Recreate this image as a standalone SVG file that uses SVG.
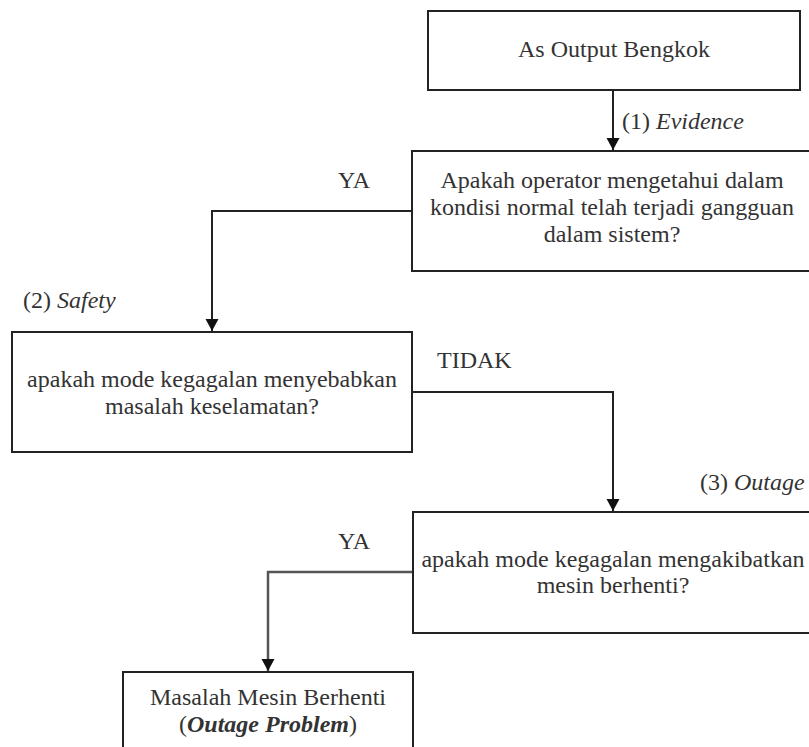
<svg xmlns="http://www.w3.org/2000/svg" width="809" height="747" viewBox="0 0 809 747">
<style>
.box{fill:#fff;stroke:#222;stroke-width:2}
.t{font-family:'Liberation Serif','Times New Roman',serif;font-size:24px;fill:#333}
.c{text-anchor:middle}
.conn{fill:none;stroke:#222;stroke-width:2}
</style>
<defs>
<marker id="ah" markerUnits="userSpaceOnUse" markerWidth="14" markerHeight="14" refX="12" refY="7" orient="auto">
<path d="M0,0.5 L12,7 L0,13.5 z" fill="#111"/>
</marker>
</defs>
<rect width="809" height="747" fill="#fff"/>
<g id="connectors">
<path class="conn" d="M613,90 V150" marker-end="url(#ah)"/>
<path class="conn" d="M412,211 H212 V331" marker-end="url(#ah)"/>
<path class="conn" d="M412,392 H613 V511" marker-end="url(#ah)"/>
<path class="conn" style="stroke:#555;stroke-width:2.5" d="M413,572 H268 V671" marker-end="url(#ah)"/>
<text class="t" x="622" y="129">(1) <tspan font-style="italic">Evidence</tspan></text>
<text class="t" x="338" y="188">YA</text>
<text class="t" x="23" y="308">(2) <tspan font-style="italic">Safety</tspan></text>
<text class="t" x="437" y="368">TIDAK</text>
<text class="t" x="700" y="490">(3) <tspan font-style="italic">Outage</tspan></text>
<text class="t" x="338" y="549">YA</text>
</g>
<g id="n1">
<rect class="box" x="428" y="11" width="372" height="79"/>
<text class="t c" x="614" y="57">As Output Bengkok</text>
</g>
<g id="n2">
<rect class="box" x="412" y="151" width="400" height="120"/>
<text class="t c" x="612" y="188">Apakah operator mengetahui dalam</text>
<text class="t c" x="612" y="215">kondisi normal telah terjadi gangguan</text>
<text class="t c" x="612" y="242">dalam sistem?</text>
</g>
<g id="n3">
<rect class="box" x="12" y="332" width="400" height="120"/>
<text class="t c" x="212" y="387">apakah mode kegagalan menyebabkan</text>
<text class="t c" x="212" y="414">masalah keselamatan?</text>
</g>
<g id="n4">
<rect class="box" x="413" y="512" width="400" height="121"/>
<text class="t c" x="613" y="567">apakah mode kegagalan mengakibatkan</text>
<text class="t c" x="613" y="593">mesin berhenti?</text>
</g>
<g id="n5">
<rect class="box" x="123" y="672" width="290" height="90"/>
<text class="t c" x="268" y="705">Masalah Mesin Berhenti</text>
<text class="t c" x="268" y="732">(<tspan font-weight="bold" font-style="italic">Outage Problem</tspan>)</text>
</g>
</svg>
